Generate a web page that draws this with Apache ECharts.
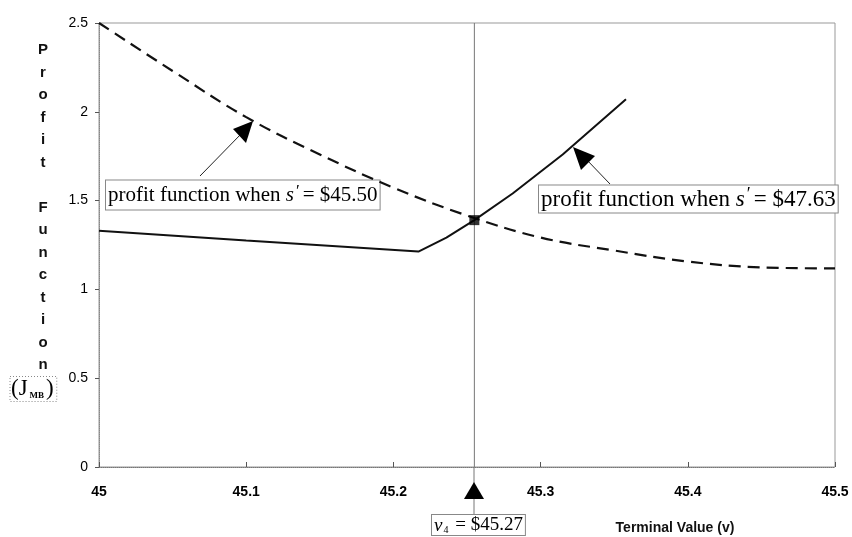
<!DOCTYPE html>
<html>
<head>
<meta charset="utf-8">
<script src="https://cdn.jsdelivr.net/npm/echarts@6/dist/echarts.min.js"></script>
<style>html,body{margin:0;padding:0;background:#fff}#c{width:852px;height:537px}</style>
</head>
<body>
<div id="c"></div>
<script>
// ---- data ----
const xMin = 45, xMax = 45.5, xStep = 0.1;
const yMin = 0, yMax = 2.5, yStep = 0.5;
const dashedX = [45.00, 45.05, 45.10, 45.15, 45.20, 45.25, 45.30, 45.35, 45.40, 45.45, 45.50];
const dashedY = [2.50, 2.23, 1.97, 1.76, 1.573, 1.416, 1.292, 1.219, 1.157, 1.124, 1.118];
const solidX = [45.00, 45.10, 45.217, 45.236, 45.255, 45.281, 45.315, 45.358];
const solidY = [1.33, 1.275, 1.213, 1.292, 1.39, 1.54, 1.76, 2.07];
const crossX = [45.255];
const crossY = [1.39];
const v4Line = 45.255;
const label1 = "= $45.50";
const label2 = "= $47.63";
const v4Label = "= $45.27";

const chart = echarts.init(document.getElementById('c'));
const serif = '"Liberation Serif", "Times New Roman", serif';
const sans = '"Liberation Sans", Arial, sans-serif';

function profitRich(size) {
  return {
    t: { fontFamily: serif, fontSize: size, color: '#111' },
    i: { fontFamily: serif, fontSize: size, fontStyle: 'italic', color: '#111' },
    sup: { fontFamily: serif, fontSize: Math.round(size * 0.8), color: '#111', verticalAlign: 'top', padding: [0, 3, Math.round(size * 0.35), 2] }
  };
}

const option = {
  animation: false,
  backgroundColor: '#fff',
  grid: { left: 99, right: 17, top: 23, bottom: 70, show: true, borderColor: '#999', borderWidth: 1 },
  xAxis: {
    type: 'value', min: xMin, max: xMax, interval: xStep,
    axisLine: { show: true, lineStyle: { color: '#777', type: 'dotted', width: 1 } },
    axisTick: { show: true, inside: true, length: 5, lineStyle: { color: '#555' } },
    splitLine: { show: false },
    axisLabel: { color: '#000', fontFamily: sans, fontWeight: 'bold', fontSize: 14, margin: 18,
      formatter: v => String(+v.toFixed(1)) }
  },
  yAxis: {
    type: 'value', min: yMin, max: yMax, interval: yStep,
    axisLine: { show: true, lineStyle: { color: '#888', type: 'dotted', width: 1 } },
    axisTick: { show: true, length: 4, lineStyle: { color: '#555' } },
    splitLine: { show: false },
    axisLabel: { color: '#000', fontFamily: sans, fontSize: 14, margin: 11,
      formatter: v => String(+v.toFixed(1)) }
  },
  series: [
    {
      type: 'line', name: 'v4', data: [[v4Line, yMin], [v4Line, yMax]],
      symbol: 'none', silent: true, lineStyle: { color: '#777', width: 1 }, z: 2
    },
    {
      type: 'line', name: 's45.50', data: dashedX.map((x, i) => [x, dashedY[i]]),
      smooth: 0.4, symbol: 'none',
      lineStyle: { color: '#111', width: 2.2, type: [12, 7] }, z: 3
    },
    {
      type: 'line', name: 's47.63', data: solidX.map((x, i) => [x, solidY[i]]),
      smooth: false, symbol: 'none',
      lineStyle: { color: '#111', width: 2 }, z: 3
    },
    {
      type: 'scatter', data: crossX.map((x, i) => [x, crossY[i]]),
      symbol: 'rect', symbolSize: 10, itemStyle: { color: '#000' }, z: 5
    }
  ],
  graphic: [
    // Y axis vertical title
    { type: 'text', x: 43, y: 39, style: { text: 'P\nr\no\nf\ni\nt\n\nF\nu\nn\nc\nt\ni\no\nn',
      font: 'bold 15px ' + sans, fill: '#111', align: 'center', verticalAlign: 'top', lineHeight: 22.5 } },
    { type: 'text', x: 10, y: 389, style: { text: '{p|(J}{s|MB}{p|)}', align: 'left', verticalAlign: 'middle',
      borderColor: '#888', borderWidth: 1, borderDash: [1, 2], padding: [1, 3, 1, 1],
      rich: { p: { fontFamily: serif, fontSize: 23, color: '#111' },
              s: { fontFamily: serif, fontSize: 9, fontWeight: 'bold', color: '#111', verticalAlign: 'bottom', padding: [8, 2, 0, 2] } } } },
    // label 1
    { type: 'text', z: 1, x: 106, y: 195, style: { align: 'left', verticalAlign: 'middle',
      text: '{t|profit function when }{i|s}{sup|\u2032}{t|' + label1 + '}',
      rich: profitRich(21), backgroundColor: '#fff', borderColor: '#888', borderWidth: 1, padding: [3, 2, 2, 2] } },
    // label 2
    { type: 'text', z: 1, x: 539, y: 199, style: { align: 'left', verticalAlign: 'middle',
      text: '{t|profit function when }{i|s}{sup|\u2032}{t|' + label2 + '}',
      rich: profitRich(23), backgroundColor: '#fff', borderColor: '#888', borderWidth: 1, padding: [1, 2, 0, 2] } },
    // arrow 1
    { type: 'line', shape: { x1: 200, y1: 176, x2: 242, y2: 133 }, style: { stroke: '#222', lineWidth: 1 } },
    { type: 'polygon', shape: { points: [[253, 121], [233, 129], [246, 143]] }, style: { fill: '#000' } },
    // arrow 2
    { type: 'line', shape: { x1: 610, y1: 184, x2: 586, y2: 159 }, style: { stroke: '#222', lineWidth: 1 } },
    { type: 'polygon', shape: { points: [[573, 147], [595, 156], [581, 170]] }, style: { fill: '#000' } },
    // v4 marker below axis
    { type: 'line', shape: { x1: 474, y1: 467, x2: 474, y2: 515 }, style: { stroke: '#777', lineWidth: 1 } },
    { type: 'polygon', shape: { points: [[474, 482], [464, 499], [484, 499]] }, style: { fill: '#000' } },
    { type: 'text', x: 432, y: 525, style: { align: 'left', verticalAlign: 'middle',
      text: '{i|v}{sub|4}{t| ' + v4Label + '}', backgroundColor: '#fff', borderColor: '#888', borderWidth: 1, padding: [1, 2, 0, 2],
      rich: { t: { fontFamily: serif, fontSize: 19, color: '#111' },
              i: { fontFamily: serif, fontSize: 19, fontStyle: 'italic', color: '#111' },
              sub: { fontFamily: serif, fontSize: 10, color: '#111', verticalAlign: 'bottom', padding: [6, 2, 0, 1] } } } },
    // x axis title
    { type: 'text', x: 675, y: 528, style: { text: 'Terminal Value (v)', font: 'bold 14px ' + sans, fill: '#111',
      align: 'center', verticalAlign: 'middle' } }
  ]
};
chart.setOption(option);
</script>
</body>
</html>
